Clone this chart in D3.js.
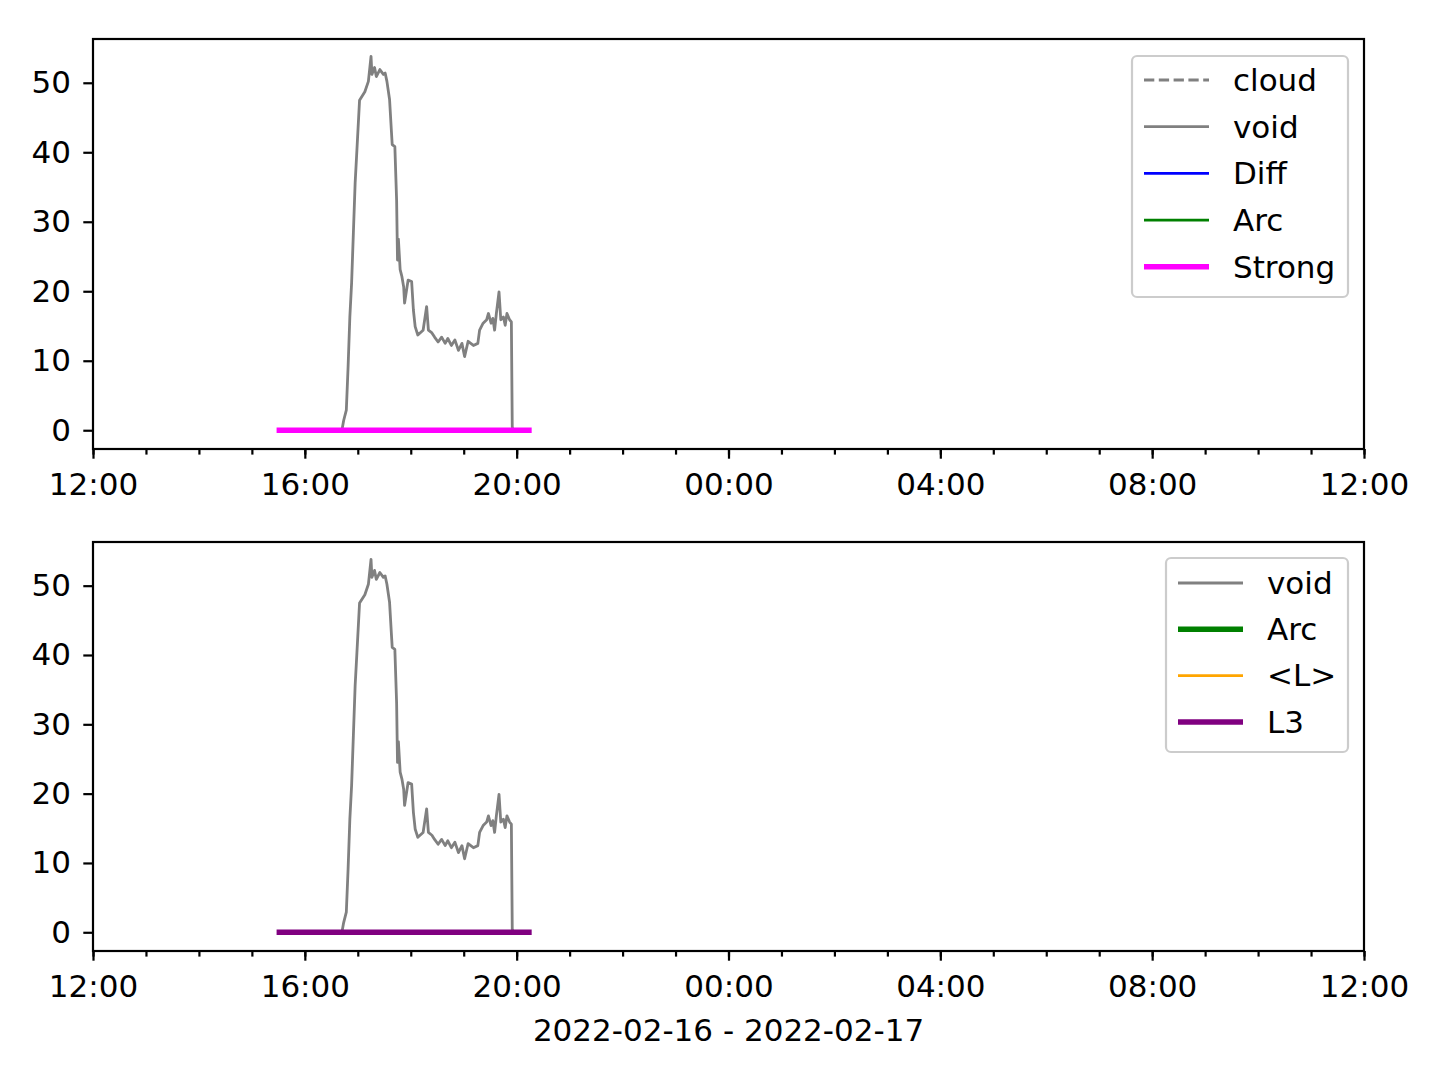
<!DOCTYPE html>
<html><head><meta charset="utf-8">
<script src="https://cdn.jsdelivr.net/npm/d3@7"></script>
<style>body{margin:0;background:#fff}svg{display:block}text{font-family:"DejaVu Sans",sans-serif}</style>
</head><body><svg id="c" width="1440" height="1080"></svg>
<script>
// ---- data ----
const voidTimes = ["16:42","16:44","16:47","16:49","16:51","16:53","16:55","16:57","16:59","17:02","17:08","17:12","17:15","17:16","17:19","17:21","17:25","17:29","17:31","17:33","17:36","17:38","17:39","17:42","17:44","17:45","17:46","17:48","17:50","17:52","17:53","17:57","18:01","18:03","18:05","18:08","18:14","18:18","18:20","18:24","18:27","18:31","18:35","18:39","18:42","18:46","18:50","18:54","18:58","19:01","19:05","19:11","19:16","19:18","19:22","19:26","19:28","19:31","19:33","19:35","19:37","19:40","19:42","19:45","19:47","19:49","19:52","19:54","19:55","19:56"];
const voidValues = [0,1.4,2.9,9.1,16.3,21.2,28.4,35.6,40.3,47.5,48.7,50.2,53.8,51.2,52.2,50.9,51.9,51.2,51.4,50.2,47.6,43.2,41.1,40.8,33.0,24.5,27.5,23.1,22.1,20.6,18.3,21.6,21.4,17.3,14.9,13.7,14.4,17.8,14.4,14.0,13.4,12.7,13.4,12.5,13.2,12.2,13.0,11.5,12.5,10.6,12.8,12.2,12.5,14.4,15.4,15.9,16.8,15.4,16.1,14.4,16.8,19.9,15.9,16.3,15.1,16.8,15.9,15.6,0.5,0];
const flatTimes = ["15:28","20:17"];
const strongValues = [0,0];
const l3Values = [0,0];
const yTicks = [0,10,20,30,40,50];
const xLabel = "2022-02-16 - 2022-02-17";
const legendTop = ["cloud","void","Diff","Arc","Strong"];
const legendBottom = ["void","Arc","<L>","L3"];

// ---- helpers ----
function toDate(s){const [h,m]=s.split(":").map(Number);return new Date(2022,1,16,h,m);}
const svg = d3.select("#c");
const FS = 31;
const L = 93, R = 1364;
const x = d3.scaleTime().domain([new Date(2022,1,16,12,0), new Date(2022,1,17,12,0)]).range([L,R]);

const styles = {
  cloud:{color:"#808080",w:2.8,dash:"10.3,4.5"},
  void:{color:"#808080",w:2.8},
  Diff:{color:"#0000ff",w:2.8},
  Arc:{color:"#008000",w:2.8},
  Strong:{color:"#ff00ff",w:5.5},
  ArcB:{color:"#008000",w:5.5},
  "<L>":{color:"#ffa500",w:2.8},
  L3:{color:"#800080",w:5.5}
};

function panel(top, bottom, flatName, flatVals, legendNames, legendBox){
  const y = d3.scaleLinear().domain([-2.7,56.3]).range([bottom, top]);
  const g = svg.append("g");
  const line = d3.line().x(d=>x(d[0])).y(d=>y(d[1]));
  const clip = "clip"+top;
  svg.append("clipPath").attr("id",clip).append("rect").attr("x",L).attr("y",top).attr("width",R-L).attr("height",bottom-top);
  const pg = g.append("g").attr("clip-path",`url(#${clip})`);
  pg.append("path").datum(voidTimes.map((t,i)=>[toDate(t),voidValues[i]]))
    .attr("d",line).attr("fill","none").attr("stroke",styles.void.color).attr("stroke-width",styles.void.w).attr("stroke-linejoin","round");
  const fs = styles[flatName];
  pg.append("path").datum(flatTimes.map((t,i)=>[toDate(t),flatVals[i]]))
    .attr("d",line).attr("fill","none").attr("stroke",fs.color).attr("stroke-width",fs.w);

  // axes
  const xa = d3.axisBottom(x).ticks(d3.timeHour.every(4)).tickFormat(d3.timeFormat("%H:%M")).tickSize(9.7).tickPadding(6);
  const xm = d3.axisBottom(x).ticks(d3.timeHour.every(1)).tickFormat("").tickSize(5.6);
  const gxm = g.append("g").attr("transform",`translate(0,${bottom})`).call(xm);
  const gx = g.append("g").attr("transform",`translate(0,${bottom})`).call(xa);
  const ya = d3.axisLeft(y).tickValues(yTicks).tickSize(9.7).tickPadding(6);
  const gy = g.append("g").attr("transform",`translate(${L},0)`).call(ya);
  [gx,gxm,gy].forEach(a=>{a.select(".domain").remove();a.selectAll("line").attr("stroke","#000").attr("stroke-width",2.2);
    a.selectAll("text").attr("font-size",FS).attr("fill","#000").attr("font-family","DejaVu Sans");});
  gx.selectAll("text").attr("dy","0.71em").attr("y",24);
  gy.selectAll("text").attr("x",-22);
  g.append("rect").attr("x",L).attr("y",top).attr("width",R-L).attr("height",bottom-top)
    .attr("fill","none").attr("stroke","#000").attr("stroke-width",2.2);

  // legend
  const [bx,by,bw,bh,lx,tx,ey,sp] = legendBox;
  g.append("rect").attr("x",bx).attr("y",by).attr("width",bw).attr("height",bh).attr("rx",5)
    .attr("fill","#fff").attr("fill-opacity",0.8).attr("stroke","#cccccc").attr("stroke-width",2.2);
  legendNames.forEach((n,i)=>{
    const key = (flatName==="L3" && n==="Arc") ? "ArcB" : n;
    const s = styles[key];
    const yy = ey + i*sp;
    g.append("line").attr("x1",lx).attr("x2",lx+65).attr("y1",yy).attr("y2",yy)
      .attr("stroke",s.color).attr("stroke-width",s.w).attr("stroke-dasharray",s.dash||null);
    g.append("text").attr("x",tx).attr("y",yy).attr("dy","0.35em").attr("font-size",FS).attr("fill","#000").text(n);
  });
}

panel(39, 449, "Strong", strongValues, legendTop, [1132,56,216,241,1144,1233,80,46.7]);
panel(542, 951, "L3", l3Values, legendBottom, [1166,558,182,194,1178,1267,583,46.3]);

svg.append("text").attr("x",(L+R)/2).attr("y",1041).attr("text-anchor","middle").attr("font-size",FS).attr("fill","#000").text(xLabel);
</script></body></html>
